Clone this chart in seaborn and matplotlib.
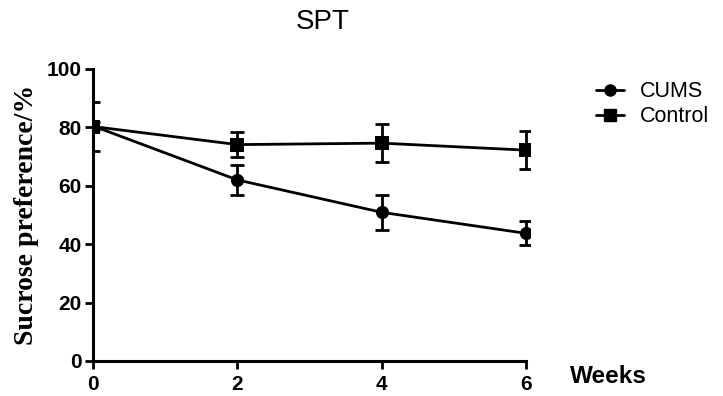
import pandas as pd
import seaborn as sns
import matplotlib.pyplot as plt

weeks = [0, 2, 4, 6]
cums_mean = [80.5, 62.0, 50.9, 43.7]
cums_err = [1.5, 5.2, 6.0, 4.1]
control_mean = [80.3, 74.1, 74.6, 72.2]
control_err = [8.4, 4.2, 6.6, 6.5]

df = pd.DataFrame({
    'week': weeks * 2,
    'value': cums_mean + control_mean,
    'group': ['CUMS'] * 4 + ['Control'] * 4,
})

sns.set_style('white')
plt.rcParams['font.family'] = ['Liberation Sans', 'DejaVu Sans']
plt.rcParams['text.color'] = 'black'
plt.rcParams['axes.labelcolor'] = 'black'
plt.rcParams['axes.edgecolor'] = 'black'
plt.rcParams['xtick.color'] = 'black'
plt.rcParams['ytick.color'] = 'black'

fig = plt.figure(figsize=(7.23, 3.96), dpi=100)
ax = fig.add_axes([0.1286, 0.0884, 0.6044, 0.7374])

sns.lineplot(data=df, x='week', y='value', hue='group', style='group',
             markers={'CUMS': 'o', 'Control': 's'}, dashes=False,
             palette={'CUMS': 'black', 'Control': 'black'},
             markersize=9.5, linewidth=2, markeredgewidth=0, ax=ax, legend=False)

# Error bars (SEM)
ax.errorbar(weeks, cums_mean, yerr=cums_err, fmt='none', ecolor='black',
            elinewidth=2, capsize=5, capthick=2)
ax.errorbar(weeks, control_mean, yerr=control_err, fmt='none', ecolor='black',
            elinewidth=2, capsize=5, capthick=2)

ax.set_xlim(0, 6.05)
ax.set_ylim(0, 100)
ax.set_xticks([0, 2, 4, 6])
ax.set_yticks([0, 20, 40, 60, 80, 100])
for lab in ax.get_xticklabels() + ax.get_yticklabels():
    lab.set_fontweight('bold')
    lab.set_fontsize(15)
ax.tick_params(axis='both', direction='out', length=6, width=2,
               bottom=True, left=True)
ax.tick_params(axis='x', pad=4)
ax.tick_params(axis='y', pad=2)

sns.despine(ax=ax)
ax.spines['left'].set_linewidth(2.2)
ax.spines['bottom'].set_linewidth(2.2)
ax.spines['left'].set_bounds(0, 100)
ax.spines['bottom'].set_bounds(0, 6)
ax.set_xlabel('')
ax.set_ylabel('Sucrose preference/%', family=['Liberation Serif'],
              fontweight='bold', fontsize=20, labelpad=6)

fig.text(0.4465, 0.945, 'SPT', ha='center', va='center', fontsize=20)
fig.text(0.788, 0.05, 'Weeks', ha='left', va='center', fontsize=17.5,
         fontweight='bold')

handles = [
    plt.Line2D([], [], color='black', marker='o', markersize=8, lw=2),
    plt.Line2D([], [], color='black', marker='s', markersize=8, lw=2),
]
fig.legend(handles, ['CUMS', 'Control'], loc='upper left',
           bbox_to_anchor=(0.824, 0.795), frameon=False, fontsize=15.5,
           handlelength=1.3, handletextpad=0.75, labelspacing=0.2,
           borderaxespad=0, borderpad=0)

fig.savefig('out.png', dpi=100)
